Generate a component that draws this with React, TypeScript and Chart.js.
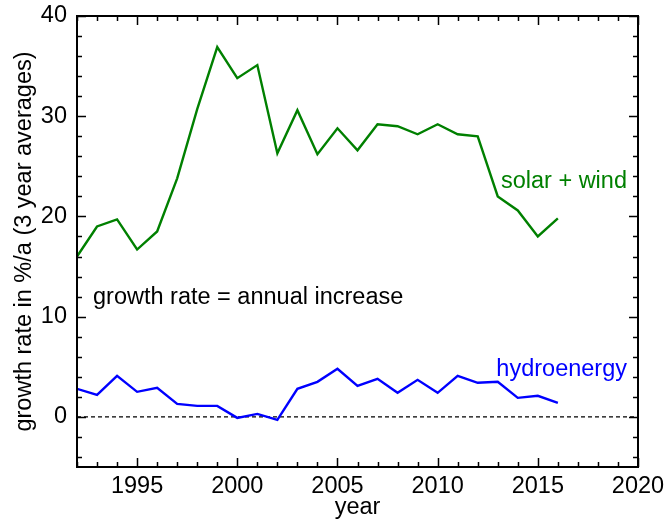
import React, { useEffect, useRef } from "react";
import { Chart, registerables } from "chart.js";

Chart.register(...registerables);

const years = [1992, 1993, 1994, 1995, 1996, 1997, 1998, 1999, 2000, 2001, 2002, 2003, 2004, 2005, 2006, 2007, 2008, 2009, 2010, 2011, 2012, 2013, 2014, 2015, 2016];
const solarWind = [16.0, 19.0, 19.7, 16.7, 18.5, 23.8, 30.7, 36.9, 33.8, 35.1, 26.3, 30.6, 26.2, 28.8, 26.6, 29.2, 29.0, 28.2, 29.2, 28.2, 28.0, 22.0, 20.6, 18.0, 19.8];
const hydro = [2.8, 2.2, 4.1, 2.5, 2.9, 1.3, 1.1, 1.1, -0.1, 0.3, -0.3, 2.8, 3.5, 4.8, 3.1, 3.8, 2.4, 3.7, 2.4, 4.1, 3.4, 3.5, 1.9, 2.1, 1.4];
const xMajorTicks = [1995, 2000, 2005, 2010, 2015, 2020];
const yMajorTicks = [0, 10, 20, 30, 40];
const xRange = [1992, 2020];
const yRange = [-5, 40];
const xMinorStep = 1;
const yMinorStep = 2;

const annotations = [
  { text: "growth rate = annual increase", x: 1992.8, y: 11.9, color: "#000000", align: "left" as CanvasTextAlign },
  { text: "solar + wind", x: 2019.45, y: 23.5, color: "#008000", align: "right" as CanvasTextAlign },
  { text: "hydroenergy", x: 2019.45, y: 4.7, color: "#0000ff", align: "right" as CanvasTextAlign },
];

const FONT = "'Liberation Sans', Arial, sans-serif";
const FS = 23.5;

const framePlugin = {
  id: "frameTicks",
  afterDatasetsDraw(chart: any) {
    const { ctx, chartArea, scales } = chart;
    const xs = scales.x;
    const ys = scales.y;
    const { left, right, top, bottom } = chartArea;
    ctx.save();
    ctx.strokeStyle = "#000";
    ctx.lineWidth = 1.5;
    ctx.beginPath();
    for (let v = xRange[0]; v <= xRange[1] + 1e-9; v += xMinorStep) {
      const px = Math.round(xs.getPixelForValue(v)) + 0.5;
      const major = v % 5 === 0;
      const len = major ? 9 : 5;
      ctx.moveTo(px, bottom);
      ctx.lineTo(px, bottom - len);
      ctx.moveTo(px, top);
      ctx.lineTo(px, top + len);
    }
    for (let v = yRange[0] + 1; v <= yRange[1] + 1e-9; v += 1) {
      if (v % yMinorStep !== 0) continue;
      const py = Math.round(ys.getPixelForValue(v)) + 0.5;
      const major = v % 10 === 0;
      const len = major ? 9 : 5;
      ctx.moveTo(left, py);
      ctx.lineTo(left + len, py);
      ctx.moveTo(right, py);
      ctx.lineTo(right - len, py);
    }
    ctx.stroke();
    ctx.lineWidth = 2;
    ctx.strokeRect(left, top, right - left, bottom - top);

    ctx.font = FS + "px " + FONT;
    ctx.textBaseline = "middle";
    for (const a of annotations) {
      ctx.fillStyle = a.color;
      ctx.textAlign = a.align;
      ctx.fillText(a.text, xs.getPixelForValue(a.x), ys.getPixelForValue(a.y));
    }
    ctx.restore();
  },
};

export default function App() {
  const ref = useRef<HTMLCanvasElement | null>(null);
  useEffect(() => {
    if (!ref.current) return;
    const chart = new Chart(ref.current, {
      type: "line",
      data: {
        datasets: [
          {
            label: "solar + wind",
            data: years.map((y, i) => ({ x: y, y: solarWind[i] })),
            borderColor: "#008000",
            borderWidth: 2.4,
            pointRadius: 0,
            tension: 0,
            order: 0,
          },
          {
            label: "hydroenergy",
            data: years.map((y, i) => ({ x: y, y: hydro[i] })),
            borderColor: "#0000ff",
            borderWidth: 2.4,
            pointRadius: 0,
            tension: 0,
            order: 0,
          },
          {
            label: "zero",
            data: [
              { x: xRange[0], y: 0 },
              { x: xRange[1], y: 0 },
            ],
            borderColor: "#000",
            borderWidth: 1.3,
            borderDash: [4, 3],
            pointRadius: 0,
            order: 2,
          },
        ],
      },
      options: {
        responsive: false,
        animation: false,
        devicePixelRatio: 1,
        layout: { padding: { left: 0, top: 16, right: 29, bottom: 0 } },
        plugins: { legend: { display: false }, tooltip: { enabled: false } },
        scales: {
          x: {
            type: "linear",
            min: xRange[0],
            max: xRange[1],
            grid: { display: false, drawTicks: false, tickLength: 0 },
            border: { display: false },
            afterBuildTicks: (s: any) => {
              s.ticks = xMajorTicks.map((v) => ({ value: v }));
            },
            afterFit: (s: any) => {
              s.height = 62;
              s.paddingLeft = 0;
              s.paddingRight = 0;
            },
            ticks: {
              color: "#000",
              font: { family: FONT, size: FS },
              padding: 5,
              maxRotation: 0,
              autoSkip: false,
              callback: (v: any) => String(v),
            },
            title: {
              display: true,
              text: "year",
              color: "#000",
              font: { family: FONT, size: FS },
              padding: { top: 0, bottom: 7 },
            },
          },
          y: {
            type: "linear",
            min: yRange[0],
            max: yRange[1],
            grid: { display: false, drawTicks: false, tickLength: 0 },
            border: { display: false },
            afterBuildTicks: (s: any) => {
              s.ticks = yMajorTicks.map((v) => ({ value: v }));
            },
            afterFit: (s: any) => {
              s.width = 77;
              s.paddingTop = 0;
              s.paddingBottom = 0;
            },
            ticks: {
              color: "#000",
              font: { family: FONT, size: FS },
              padding: 10,
              autoSkip: false,
              callback: (v: any) => String(v),
            },
            title: {
              display: true,
              text: "growth rate in %/a (3 year averages)",
              color: "#000",
              font: { family: FONT, size: FS },
              padding: { top: 10, bottom: 0 },
            },
          },
        },
      },
      plugins: [framePlugin],
    });
    return () => chart.destroy();
  }, []);
  return (
    <div style={{ position: "absolute", left: 0, top: 0, width: 667, height: 529, background: "#fff" }}>
      <canvas ref={ref} width={667} height={529} />
    </div>
  );
}
